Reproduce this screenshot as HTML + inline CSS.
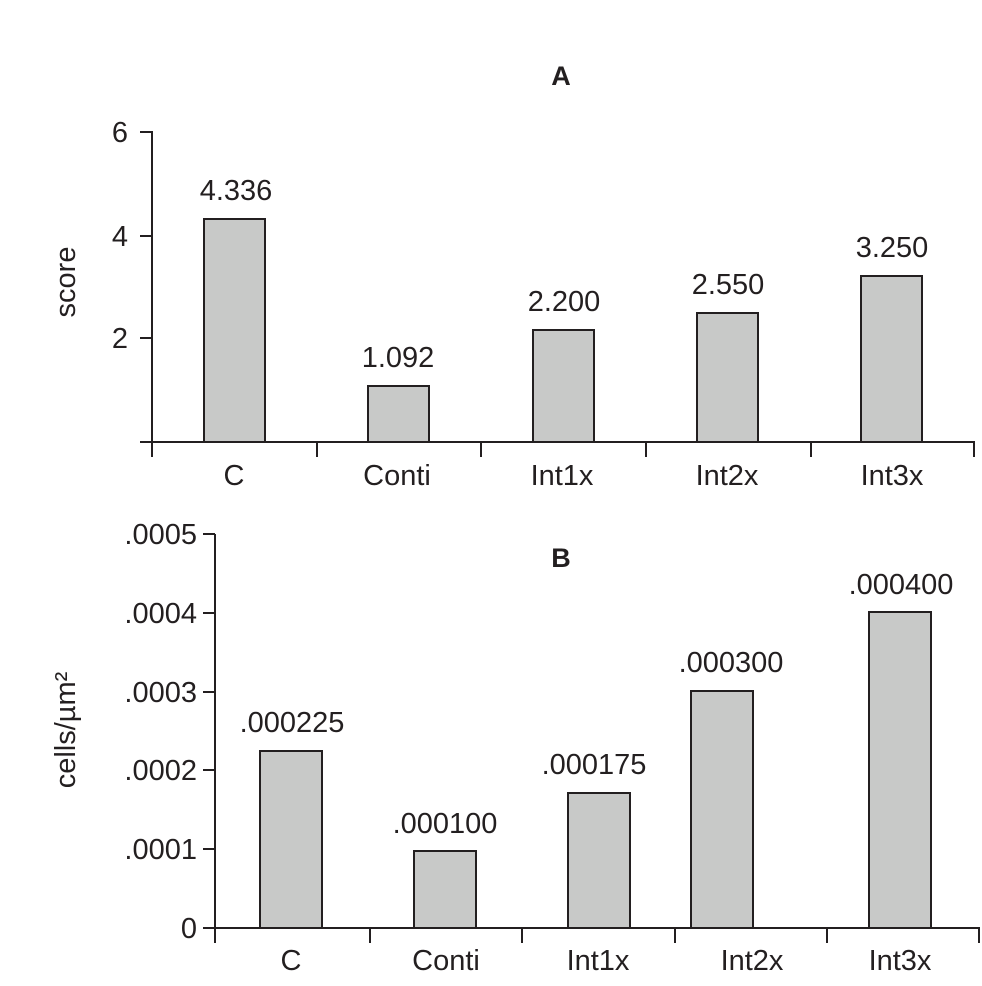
<!DOCTYPE html>
<html><head><style>body{margin:0;background:#fff}svg{display:block}text{font-family:"Liberation Sans",sans-serif;fill:#231f20}</style></head><body>
<svg width="982" height="986" viewBox="0 0 982 986" xmlns="http://www.w3.org/2000/svg">
<g stroke="#231f20" stroke-width="2" fill="none">
<!-- A axes -->
<line x1="152" y1="131" x2="152" y2="457"/>
<line x1="140" y1="442" x2="975" y2="442"/>
<line x1="140" y1="132" x2="152" y2="132"/>
<line x1="140" y1="236" x2="152" y2="236"/>
<line x1="140" y1="338" x2="152" y2="338"/>
<line x1="317" y1="442" x2="317" y2="457"/><line x1="481" y1="442" x2="481" y2="457"/><line x1="646" y1="442" x2="646" y2="457"/><line x1="811" y1="442" x2="811" y2="457"/><line x1="974" y1="442" x2="974" y2="457"/>
<!-- B axes -->
<line x1="215" y1="534" x2="215" y2="943"/>
<line x1="203" y1="928" x2="980" y2="928"/>
<line x1="203" y1="534" x2="215" y2="534"/>
<line x1="203" y1="613" x2="215" y2="613"/>
<line x1="203" y1="692" x2="215" y2="692"/>
<line x1="203" y1="770" x2="215" y2="770"/>
<line x1="203" y1="849" x2="215" y2="849"/>
<line x1="370" y1="928" x2="370" y2="943"/><line x1="522" y1="928" x2="522" y2="943"/><line x1="675" y1="928" x2="675" y2="943"/><line x1="827" y1="928" x2="827" y2="943"/><line x1="979" y1="928" x2="979" y2="943"/>
</g>
<g fill="#c8c9c8" stroke="#231f20" stroke-width="2">
<rect x="204" y="219" width="61" height="223"/>
<rect x="368" y="386" width="61" height="56"/>
<rect x="533" y="330" width="61" height="112"/>
<rect x="697" y="313" width="61" height="129"/>
<rect x="861" y="276" width="61" height="166"/>
<rect x="260" y="751" width="62" height="177"/>
<rect x="414" y="851" width="62" height="77"/>
<rect x="568" y="793" width="62" height="135"/>
<rect x="691" y="691" width="62" height="237"/>
<rect x="869" y="612" width="62" height="316"/>
</g>
<g font-size="29" text-anchor="middle">
<text x="561" y="85" font-weight="bold" font-size="27">A</text>
<text x="561" y="567" font-weight="bold" font-size="27">B</text>
<text x="234" y="485">C</text><text x="397" y="485">Conti</text><text x="562" y="485">Int1x</text><text x="727" y="485">Int2x</text><text x="892" y="485">Int3x</text>
<text x="291" y="970">C</text><text x="446" y="970">Conti</text><text x="598" y="970">Int1x</text><text x="752" y="970">Int2x</text><text x="900" y="970">Int3x</text>
<text x="236" y="200">4.336</text><text x="398" y="367">1.092</text><text x="564" y="311">2.200</text><text x="728" y="294">2.550</text><text x="892" y="257">3.250</text>
<text x="292" y="732">.000225</text><text x="445" y="833">.000100</text><text x="594" y="774">.000175</text><text x="731" y="672">.000300</text><text x="901" y="594">.000400</text>
</g>
<g font-size="29" text-anchor="end">
<text x="128" y="142">6</text><text x="128" y="246">4</text><text x="128" y="348">2</text>
<text x="197" y="544">.0005</text><text x="197" y="623">.0004</text><text x="197" y="702">.0003</text><text x="197" y="780">.0002</text><text x="197" y="859">.0001</text><text x="197" y="938">0</text>
</g>
<text font-size="29" text-anchor="middle" transform="translate(75,282) rotate(-90)">score</text>
<text font-size="29" text-anchor="middle" transform="translate(75,730) rotate(-90)">cells/µm²</text>
</svg>
</body></html>
